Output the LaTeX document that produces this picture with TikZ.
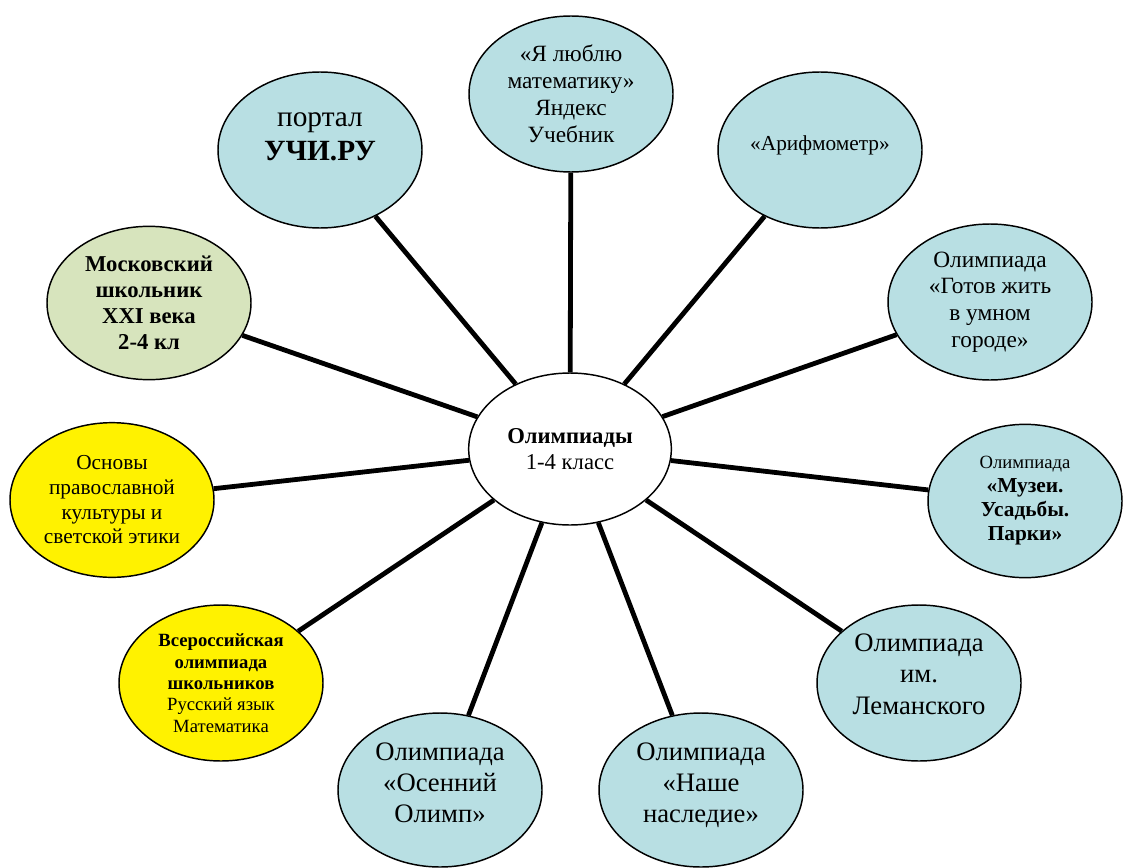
\documentclass[tikz,border=0pt]{standalone}
\usepackage{fontspec}
\setmainfont{LiberationSerif}[Extension=.ttf, UprightFont=*-Regular, BoldFont=*-Bold]
\usetikzlibrary{shapes.geometric}
\definecolor{lightaqua}{HTML}{B8DFE3}
\definecolor{lightolive}{HTML}{D7E4BD}

\begin{document}
\begin{tikzpicture}[x=0.75pt, y=-0.75pt,
    bubble/.style={ellipse, draw, line width=1.1pt, fill=lightaqua, align=center, inner sep=0pt,
        minimum width=153pt, minimum height=117pt},
    spoke/.style={line width=3.6pt}]
    \useasboundingbox (0,0) rectangle (1123,867);
    % Hub
    \node [bubble, fill=white, minimum width=152pt, minimum height=114pt,
        font=\fontsize{17}{19.5}\selectfont] (hub) at (570,449) {\textbf{Олимпиады}\\1-4 класс};
    % Upper ring
    \node [bubble, font=\fontsize{17.5}{20.2}\selectfont] (love) at (571,94)
        {«Я люблю\\математику»\\Яндекс\\Учебник};
    \node [bubble, font=\fontsize{22}{25.5}\selectfont] (portal) at (320,150)
        {портал\\\textbf{УЧИ.РУ}\\[-6pt]\mbox{}};
    \node [bubble, font=\fontsize{16}{18.4}\selectfont] (arif) at (820,150)
        {«Арифмометр»\\[-8pt]\mbox{}};
    \node [bubble, fill=lightolive, minimum height=115pt, font=\bfseries\fontsize{17}{19.5}\selectfont] (moscow) at (149,303)
        {Московский\\школьник\\XXI века\\2-4 кл};
    \node [bubble, font=\fontsize{17.5}{20}\selectfont] (smart) at (990,302)
        {Олимпиада\\«Готов жить\\в умном\\городе»};
    % Middle ring
    \node [bubble, fill=yellow, minimum height=116pt, font=\fontsize{16}{18.5}\selectfont] (basics) at (112,500)
        {Основы\\православной\\культуры и\\светской этики};
    \node [bubble, minimum width=145.5pt, minimum height=115pt, font=\fontsize{16}{18}\selectfont] (museum) at (1025,501)
        {{\fontsize{14}{18}\selectfont Олимпиада}\\\textbf{«Музеи.}\\\textbf{Усадьбы.}\\\textbf{Парки»}};
    % Lower ring
    \node [bubble, fill=yellow, font=\fontsize{14}{16}\selectfont] (vseros) at (221,683)
        {\textbf{Всероссийская}\\\textbf{олимпиада}\\\textbf{школьников}\\Русский язык\\Математика};
    \node [bubble, font=\fontsize{20}{23.5}\selectfont] (leman) at (919,683)
        {Олимпиада\\им.\\Леманского\\[-10pt]\mbox{}};
    \node [bubble, minimum height=115.5pt, font=\fontsize{20}{23}\selectfont] (autumn) at (440,790)
        {Олимпиада\\«Осенний\\Олимп»\\[-12pt]\mbox{}};
    \node [bubble, minimum height=115.5pt, font=\fontsize{20}{23}\selectfont] (heritage) at (701,790)
        {Олимпиада\\«Наше\\наследие»\\[-12pt]\mbox{}};
    % Spokes
    \foreach \leaf in {love, portal, arif, moscow, smart, basics, museum, vseros, leman, autumn, heritage}
        \draw [spoke] (hub) -- (\leaf);
\end{tikzpicture}
\end{document}
